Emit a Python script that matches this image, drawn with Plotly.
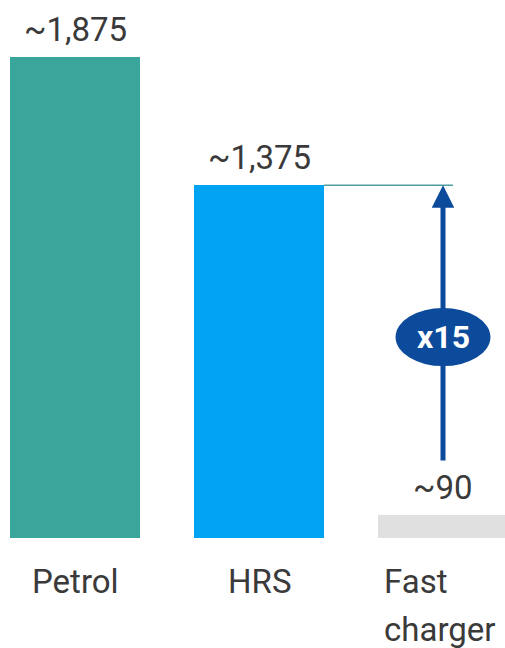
import plotly.graph_objects as go

# Refuelling / charging throughput values
categories = ["Petrol", "HRS", "Fast charger"]
values = [1875, 1375, 90]
value_labels = ["~1,875", "~1,375", "~90"]
bar_colors = ["#3aa59b", "#00a3f2", "#e0e0e0"]
multiplier_text = "x15"

FONT = "Roboto, sans-serif"
TEXT_COLOR = "#3a3a3a"
NAVY = "#0c4a9b"
LABEL_SIZE = 33

x_pos = list(range(len(categories)))
bar_width = 0.707

fig = go.Figure(
    go.Bar(
        x=x_pos,
        y=values,
        width=bar_width,
        marker=dict(color=bar_colors, line=dict(width=0)),
        hoverinfo="skip",
    )
)

# Value labels above each bar
for xi, v, lab in zip(x_pos, values, value_labels):
    fig.add_annotation(
        x=xi, y=v, xref="x", yref="y", text=lab, showarrow=False,
        yanchor="bottom", yshift=6,
        font=dict(family=FONT, size=LABEL_SIZE, color=TEXT_COLOR),
    )

# Category labels under the bars
label_font = dict(family=FONT, size=LABEL_SIZE, color=TEXT_COLOR)
fig.add_annotation(x=0, y=0, xref="x", yref="paper", text=categories[0],
                   showarrow=False, yanchor="top", yshift=-22, font=label_font)
fig.add_annotation(x=1, y=0, xref="x", yref="paper", text=categories[1],
                   showarrow=False, yanchor="top", yshift=-22, font=label_font)
fast_words = categories[2].split(" ")
for i, word in enumerate(fast_words):
    fig.add_annotation(x=2 - bar_width / 2, y=0, xref="x", yref="paper",
                       text=word, showarrow=False, xanchor="left",
                       yanchor="top", yshift=-22 - 48 * i, xshift=4,
                       font=label_font)

# Reference line from the HRS bar top
fig.add_shape(type="line", xref="x", yref="y",
              x0=1 + bar_width / 2, x1=2.054, y0=values[1], y1=values[1],
              line=dict(color="#4f9ea0", width=1.5))

# Arrow from the fast charger level up to the HRS level
fig.add_annotation(
    x=2, y=values[1], ax=2, ay=296, xref="x", yref="y", axref="x", ayref="y",
    text="", showarrow=True, arrowhead=2, arrowsize=0.9, arrowwidth=5,
    arrowcolor=NAVY, standoff=0,
)

# Multiplier badge
fig.add_shape(type="circle", xref="x", yref="y",
              x0=2 - 0.258, x1=2 + 0.258, y0=783 - 113, y1=783 + 113,
              fillcolor=NAVY, line=dict(width=0))
fig.add_annotation(x=2, y=783, xref="x", yref="y", text="<b>" + multiplier_text + "</b>",
                   showarrow=False, font=dict(family=FONT, size=32, color="white"))

fig.update_layout(
    width=505, height=648,
    margin=dict(l=0, r=0, t=0, b=110),
    paper_bgcolor="white", plot_bgcolor="white",
    showlegend=False,
    bargap=0,
    xaxis=dict(range=[-0.408, 2.337], visible=False, fixedrange=True),
    yaxis=dict(range=[0, 2097], visible=False, fixedrange=True),
)

fig.write_html("out.html")
